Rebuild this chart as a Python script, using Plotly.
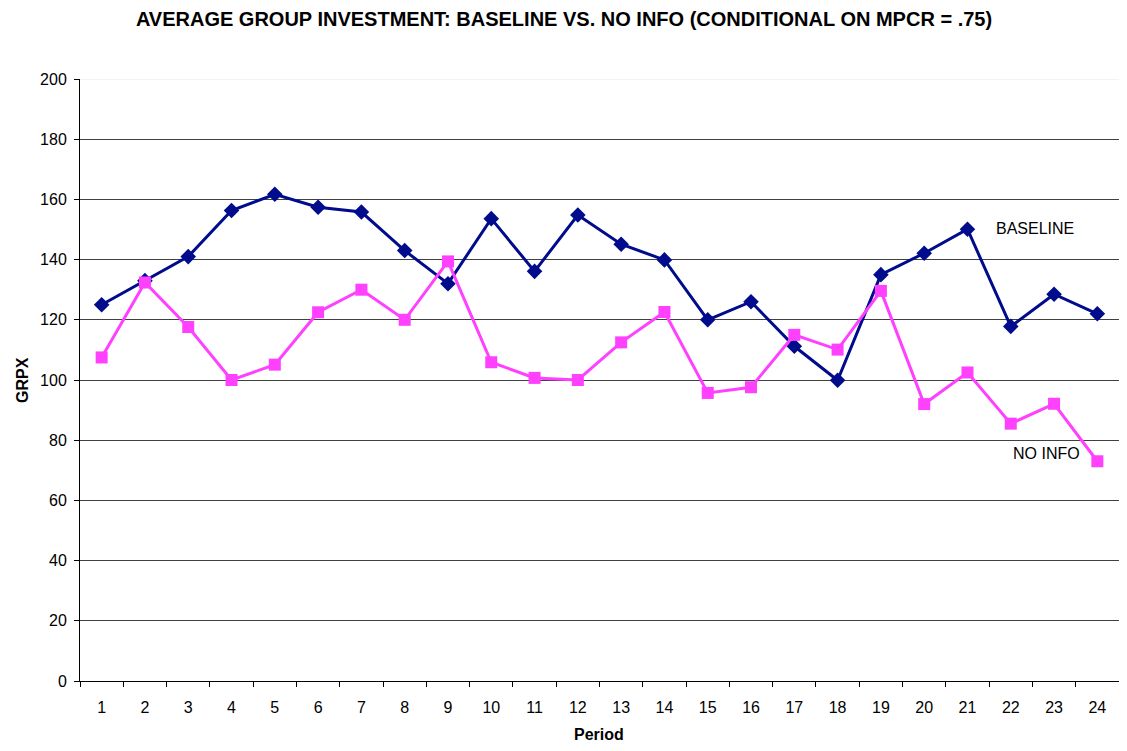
import plotly.graph_objects as go

periods = [str(i) for i in range(1, 25)]
baseline = [125, 133, 141, 156.3, 161.7, 157.4, 155.8, 143, 132, 153.6, 136.1, 154.8,
            145.1, 139.9, 120, 126, 111.2, 99.9, 135, 142.1, 150.1, 117.8, 128.5, 122]
no_info = [107.5, 132.4, 117.6, 100, 105.1, 122.5, 130, 120, 139.4, 105.9, 100.7, 100,
           112.5, 122.6, 95.7, 97.6, 115, 110.1, 129.6, 92, 102.5, 85.5, 92.1, 73]
y_ticks = list(range(0, 201, 20))

FONT = "Liberation Sans, Arial, sans-serif"

# The page body has an 8px margin; size figure so plot lands where the reference's is.
OFF = 8
W, H = 1127 - OFF, 751 - OFF
L, R, T, B = 80 - OFF, 8, 79 - OFF, 70
pw, ph = W - L - R, H - T - B


def px_to_paper(xp, yp):
    return (xp - OFF - L) / pw, (H - B - (yp - OFF)) / ph


fig = go.Figure()
fig.add_trace(go.Scatter(x=periods, y=baseline, mode="lines+markers", name="BASELINE",
                         line=dict(color="#000c8c", width=3),
                         marker=dict(symbol="diamond", size=12, color="#000c8c")))
fig.add_trace(go.Scatter(x=periods, y=no_info, mode="lines+markers", name="NO INFO",
                         line=dict(color="#ff40ff", width=3),
                         marker=dict(symbol="square", size=12, color="#ff40ff")))

fig.add_annotation(x=21.55, y=150.5, xref="x", yref="y", text="BASELINE", showarrow=False,
                   xanchor="center", yanchor="middle",
                   font=dict(size=16, color="black", family=FONT))
fig.add_annotation(x=21.82, y=75.5, xref="x", yref="y", text="NO INFO", showarrow=False,
                   xanchor="center", yanchor="middle",
                   font=dict(size=16, color="black", family=FONT))

px, py = px_to_paper(599, 734)
fig.add_annotation(x=px, y=py, xref="paper", yref="paper", text="<b>Period</b>", showarrow=False,
                   xanchor="center", yanchor="middle",
                   font=dict(size=16, color="black", family=FONT))
gx, gy = px_to_paper(22, 380)
fig.add_annotation(x=gx, y=gy, xref="paper", yref="paper", text="<b>GRPX</b>", showarrow=False,
                   xanchor="center", yanchor="middle", textangle=-90,
                   font=dict(size=16, color="black", family=FONT))

fig.add_shape(type="line", xref="paper", yref="y", x0=0, x1=1, y0=200, y1=200,
              line=dict(color="#e8e8e8", width=1), layer="above")

fig.update_layout(
    width=W, height=H,
    margin=dict(l=L, r=R, t=T, b=B),
    paper_bgcolor="white", plot_bgcolor="white",
    showlegend=False,
    font=dict(family=FONT, color="black", size=16),
    title=dict(text="<b>AVERAGE GROUP INVESTMENT: BASELINE VS. NO INFO (CONDITIONAL ON MPCR = .75)</b>",
               x=(564 - OFF) / W, xanchor="center", y=1 - (19 - OFF) / H, yanchor="middle",
               font=dict(size=20, family=FONT, color="black")),
    xaxis=dict(type="category", tickson="boundaries", ticks="outside", ticklen=5,
               range=[-0.5, 23.5], automargin=False,
               tickcolor="black", showline=True, linecolor="black", linewidth=1,
               showgrid=False, tickfont=dict(size=16), ticklabelstandoff=12),
    yaxis=dict(range=[0, 200], tickvals=y_ticks, ticks="outside", ticklen=5, automargin=False,
               tickcolor="black", showline=True, linecolor="black", linewidth=1,
               showgrid=True, gridcolor="#404040", gridwidth=1, zeroline=False,
               tickfont=dict(size=16), ticklabelstandoff=4),
)

fig.write_html("out.html")
